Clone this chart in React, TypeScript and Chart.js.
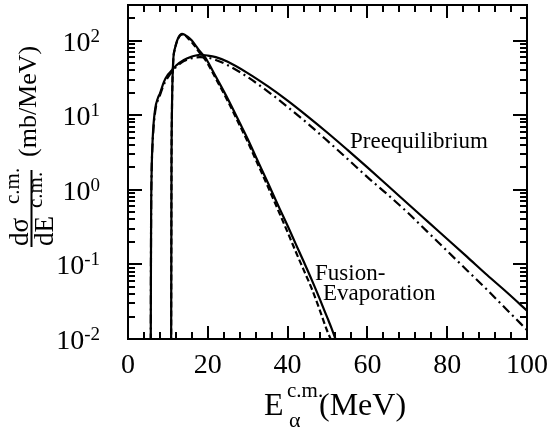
import React, { useEffect, useRef } from "react";
import { Chart, registerables } from "chart.js";

Chart.register(...registerables);

// ---- data ----
const xTickLabels = ["0", "20", "40", "60", "80", "100"];
const yDecades = [-2, -1, 0, 1, 2];

// Fusion-Evaporation
const feEnergy = [10.8, 10.85, 10.9, 11.0, 11.3, 11.8, 12.3, 13.0, 13.5, 14.2, 15, 16, 17, 18, 19.3, 20, 22, 25, 28, 30, 32, 35, 38, 40, 42, 44, 46, 48, 50, 51, 52, 53];
const feSolid = [0.005, 0.1, 2, 10, 50, 80, 100, 118, 123, 120, 112, 100, 85, 72, 60, 52, 33, 16.6, 7.9, 4.8, 2.8, 1.26, 0.56, 0.33, 0.19, 0.11, 0.063, 0.035, 0.019, 0.014, 0.01, 0.0075];
const feDashed = [0.005, 0.1, 2, 10, 48, 78, 98, 116, 120, 118, 108, 95, 81, 68, 56, 49, 31, 15.5, 7.3, 4.4, 2.55, 1.12, 0.48, 0.27, 0.15, 0.085, 0.048, 0.025, 0.0125, 0.0095, 0.007, 0.005];

// Preequilibrium
const peEnergy = [5.7, 5.75, 5.8, 5.9, 6.2, 6.8, 7.5, 8, 9, 10, 11, 12, 14, 16, 18, 20, 22, 25, 30, 35, 40, 45, 50, 55, 60, 65, 70, 75, 80, 85, 90, 95, 100];
const peSolid = [0.005, 0.1, 0.5, 1.5, 5, 12, 17, 19.5, 28, 35, 40, 46, 55, 61, 64.6, 63, 60, 52, 36.7, 24.5, 15.7, 9.66, 5.82, 3.43, 2.0, 1.15, 0.66, 0.38, 0.219, 0.126, 0.072, 0.042, 0.024];
const peDashDot = [0.005, 0.1, 0.5, 1.5, 4.5, 11, 16, 18.5, 26, 32, 38, 44, 53, 58, 60, 59, 55, 46.8, 32.4, 20.9, 12.9, 7.76, 4.52, 2.6, 1.48, 0.87, 0.5, 0.275, 0.151, 0.083, 0.0457, 0.0245, 0.0132];

const SERIF = "'Liberation Serif', 'DejaVu Serif', serif";

const pts = (xs: number[], ys: number[]) => xs.map((x, i) => ({ x, y: ys[i] }));

const decorPlugin = {
  id: "decor",
  afterDraw(chart: any) {
    const { ctx, chartArea: a, scales } = chart;
    const xs = scales.x;
    const ys = scales.y;
    ctx.save();
    ctx.strokeStyle = "#000";
    ctx.fillStyle = "#000";
    ctx.lineWidth = 2;
    // frame
    ctx.strokeRect(a.left, a.top, a.right - a.left, a.bottom - a.top);
    // x ticks (inward, top & bottom)
    ctx.beginPath();
    for (let v = 4; v < 100; v += 4) {
      const px = Math.round(xs.getPixelForValue(v));
      const len = v % 20 === 0 ? 13 : 7;
      ctx.moveTo(px, a.bottom);
      ctx.lineTo(px, a.bottom - len);
      ctx.moveTo(px, a.top);
      ctx.lineTo(px, a.top + len);
    }
    // y ticks
    for (const d of yDecades) {
      for (let m = 1; m <= 9; m++) {
        const v = m * Math.pow(10, d);
        if (v >= ys.max) break;
        if (v <= ys.min) continue;
        const py = Math.round(ys.getPixelForValue(v));
        const len = m === 1 ? 14 : 7;
        ctx.moveTo(a.left, py);
        ctx.lineTo(a.left + len, py);
        ctx.moveTo(a.right, py);
        ctx.lineTo(a.right - len, py);
      }
    }
    ctx.stroke();

    // x tick labels
    ctx.font = `28px ${SERIF}`;
    ctx.textAlign = "center";
    ctx.textBaseline = "alphabetic";
    xTickLabels.forEach((t) => {
      const px = xs.getPixelForValue(Number(t));
      ctx.fillText(t, px, a.bottom + 34);
    });

    // y tick labels 10^n
    const rightEdge = 100;
    for (const d of yDecades) {
      const py = ys.getPixelForValue(Math.pow(10, d));
      const sup = d < 0 ? "-" + Math.abs(d) : String(d);
      ctx.font = `19px ${SERIF}`;
      ctx.textAlign = "right";
      const supW = ctx.measureText(sup).width;
      ctx.fillText(sup, rightEdge, py + 1);
      ctx.font = `28px ${SERIF}`;
      ctx.fillText("10", rightEdge - supW, py + 10);
    }

    // x axis title
    ctx.textAlign = "left";
    ctx.font = `32px ${SERIF}`;
    ctx.fillText("E", 264, 415);
    ctx.font = `21px ${SERIF}`;
    ctx.fillText("c.m.", 287, 397);
    ctx.font = `22px ${SERIF}`;
    ctx.fillText("\u03b1", 289, 427);
    ctx.font = `32px ${SERIF}`;
    ctx.fillText("(MeV)", 319, 415);

    // y axis title (rotated)
    const rot = (text: string, x: number, y: number, font: string) => {
      ctx.save();
      ctx.translate(x, y);
      ctx.rotate(-Math.PI / 2);
      ctx.font = font;
      ctx.textAlign = "left";
      ctx.fillText(text, 0, 0);
      ctx.restore();
    };
    rot("(mb/MeV)", 36, 157, `26px ${SERIF}`);
    rot("d\u03c3", 28, 246, `27px ${SERIF}`);
    rot("c.m.", 19, 204, `21px ${SERIF}`);
    rot("dE", 53, 246, `27px ${SERIF}`);
    rot("c.m.", 42, 208, `21px ${SERIF}`);
    ctx.beginPath();
    ctx.lineWidth = 2;
    ctx.moveTo(31.5, 247);
    ctx.lineTo(31.5, 170);
    ctx.stroke();

    // curve labels
    ctx.font = `23px ${SERIF}`;
    ctx.textAlign = "left";
    ctx.fillText("Preequilibrium", 350, 148);
    ctx.fillText("Fusion-", 315, 280);
    ctx.fillText("Evaporation", 323, 300);
    ctx.restore();
  },
};

export default function App() {
  const ref = useRef<HTMLCanvasElement>(null);
  useEffect(() => {
    if (!ref.current) return;
    const common = {
      pointRadius: 0,
      borderColor: "#000",
      backgroundColor: "#000",
      borderWidth: 2.2,
      fill: false,
      cubicInterpolationMode: "monotone" as const,
    };
    const chart = new Chart(ref.current, {
      type: "line",
      data: {
        datasets: [
          { ...common, label: "Fusion-Evaporation", data: pts(feEnergy, feSolid) },
          { ...common, label: "Fusion-Evaporation (dashed)", data: pts(feEnergy, feDashed), borderDash: [6, 3] },
          { ...common, label: "Preequilibrium", data: pts(peEnergy, peSolid) },
          { ...common, label: "Preequilibrium (dash-dot)", data: pts(peEnergy, peDashDot), borderDash: [9, 4, 2, 4] },
        ],
      },
      options: {
        responsive: false,
        animation: false,
        devicePixelRatio: 1,
        layout: { padding: { left: 0, right: 26, top: 5, bottom: 0 } },
        plugins: { legend: { display: false }, tooltip: { enabled: false } },
        scales: {
          x: {
            type: "linear",
            min: 0,
            max: 100,
            ticks: { display: false },
            grid: { display: false },
            border: { display: false },
            afterFit: (s: any) => {
              s.height = 95;
            },
          },
          y: {
            type: "logarithmic",
            min: 0.01,
            max: 300,
            ticks: { display: false },
            grid: { display: false },
            border: { display: false },
            afterFit: (s: any) => {
              s.width = 128;
            },
          },
        },
      },
      plugins: [decorPlugin],
    });
    return () => chart.destroy();
  }, []);
  return (
    <div style={{ position: "absolute", left: 0, top: 0, width: 553, height: 434, background: "#fff" }}>
      <canvas ref={ref} width={553} height={434} />
    </div>
  );
}
